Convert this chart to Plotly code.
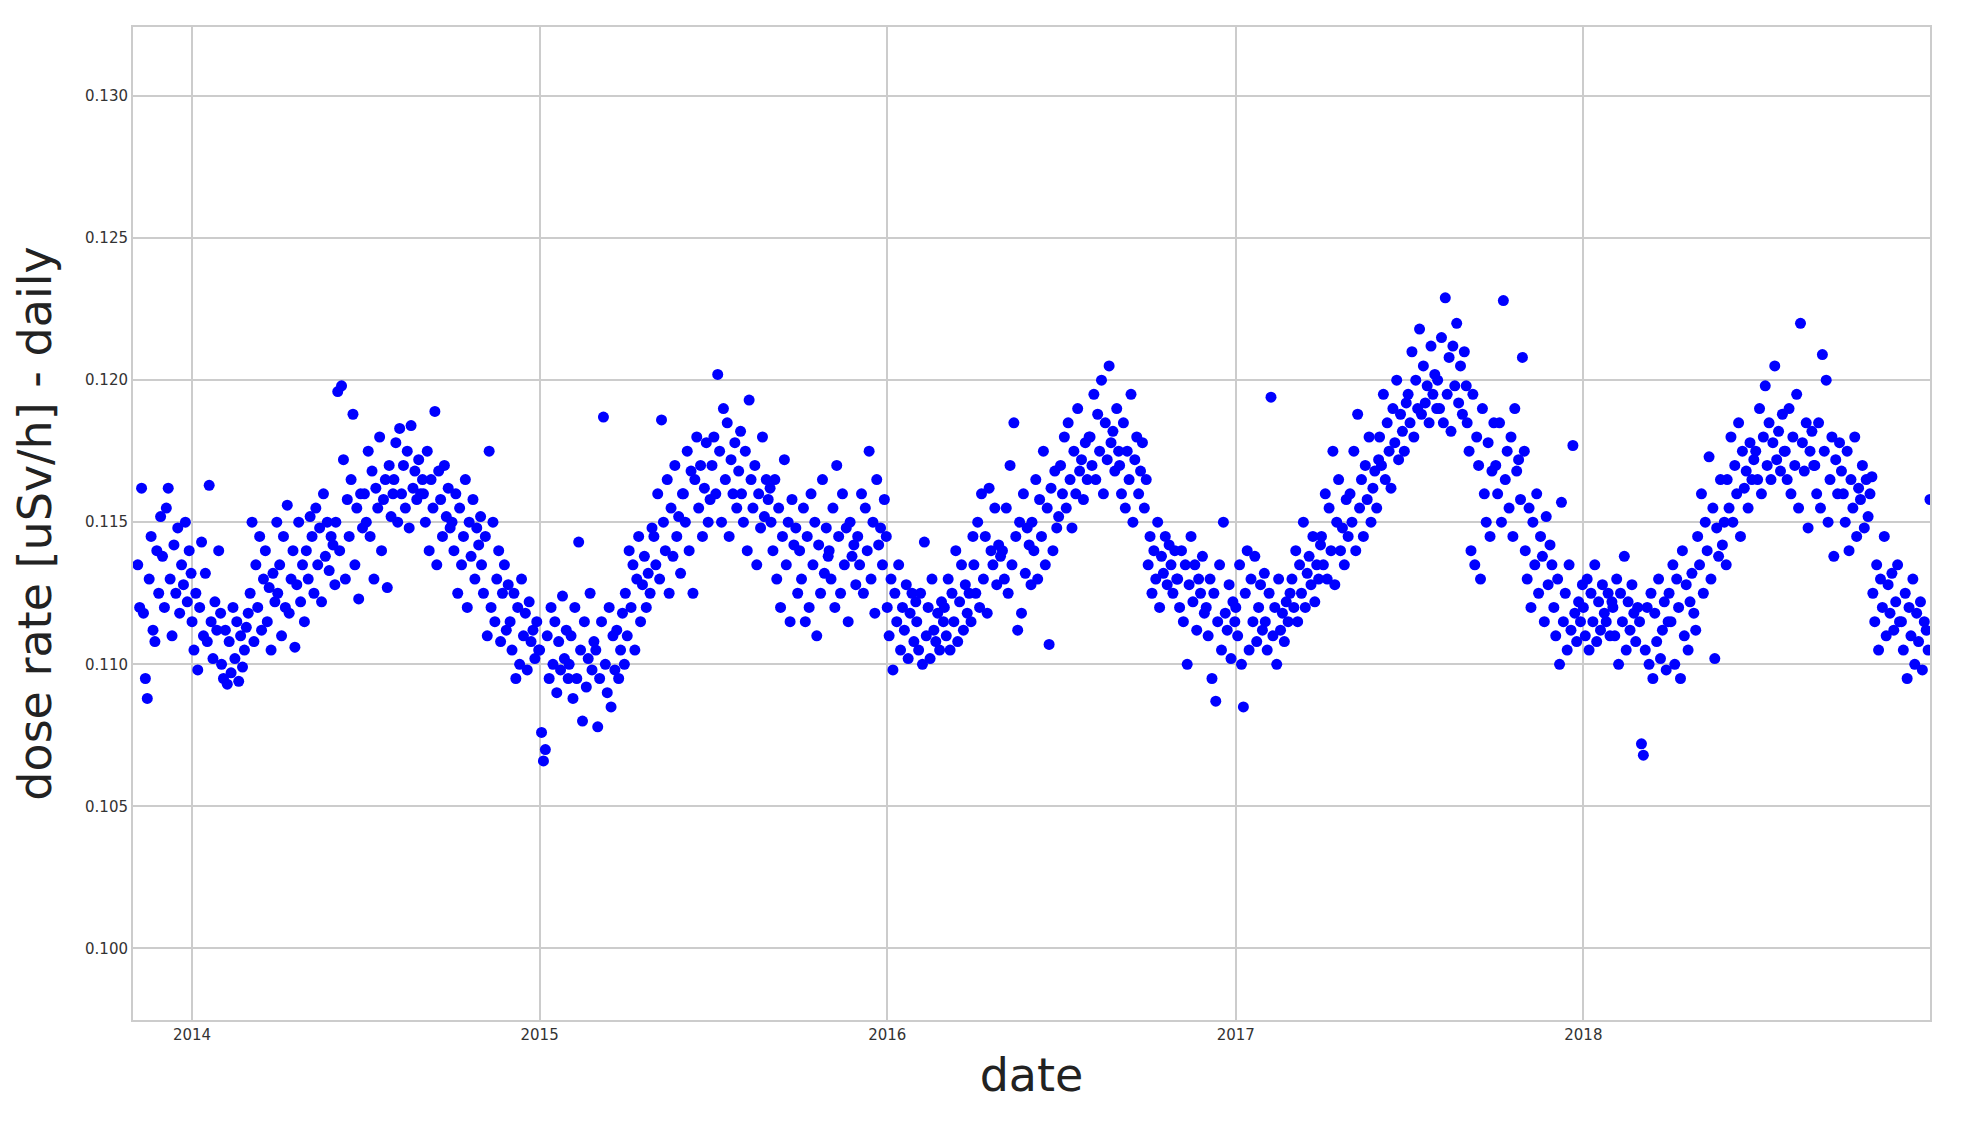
import plotly.graph_objects as go
import pandas as pd

# daily dose rate, sampled every 2 days, in units of 1e-4 uSv/h; one list per month
start_2013 = "2013-11-05"
v2013 = [
 [1135,1120,1162,1118,1095,1088,1130,1145,1112,1108,1140,1125,1152],
 [1138,1120,1155,1162,1130,1110,1142,1125,1148,1118,1135,1128,1150,1122,1140,1132],
]
v2014 = [
 [1115,1105,1125,1098,1120,1143,1110,1132,1108,1163,1115,1102,1122,1112,1140,1118],
 [1100,1095,1112,1093,1108,1097,1120,1102,1115,1094,1110,1099,1105,1113],
 [1118,1125,1150,1108,1135,1120,1145,1112,1130,1140,1115,1127,1105,1132,1122,1150],
 [1125,1135,1110,1145,1120,1156,1118,1130,1140,1106,1128,1150,1122,1135,1115],
 [1140,1130,1152,1145,1125,1155,1135,1148,1122,1160,1138,1150,1133,1145,1142,1128],
 [1150,1196,1140,1198,1172,1130,1158,1145,1165,1188,1135,1155,1123,1160,1148],
 [1160,1150,1175,1145,1168,1130,1162,1155,1180,1140,1158,1165,1127,1170,1152,1160],
 [1165,1178,1150,1183,1160,1170,1155,1175,1148,1184,1162,1168,1158,1172,1160,1165],
 [1160,1150,1175,1140,1165,1155,1189,1135,1168,1158,1145,1170,1152,1162,1148],
 [1150,1140,1160,1125,1155,1135,1145,1165,1120,1150,1138,1158,1130,1148,1142,1152],
 [1135,1125,1145,1110,1175,1120,1150,1115,1130,1140,1108,1125,1135,1112,1128],
 [1115,1105,1125,1095,1120,1100,1130,1110,1118,1098,1122,1108,1112,1102,1115,1105],
]
v2015 = [
 [1105,1076,1066,1070,1110,1095,1120,1100,1115,1090,1108,1098,1124,1102,1112,1095],
 [1100,1110,1088,1120,1095,1143,1105,1080,1115,1092,1102,1125,1098,1108],
 [1105,1078,1095,1115,1187,1100,1090,1120,1085,1110,1098,1112,1095,1105,1118,1100],
 [1125,1110,1140,1120,1135,1105,1130,1145,1115,1128,1138,1120,1132,1125,1148],
 [1145,1135,1160,1130,1186,1150,1140,1165,1125,1155,1138,1170,1145,1152,1132,1160],
 [1160,1150,1175,1140,1168,1125,1165,1180,1155,1170,1145,1162,1178,1150,1158],
 [1170,1180,1160,1202,1175,1150,1190,1165,1185,1145,1172,1160,1178,1155,1168,1182],
 [1160,1150,1175,1140,1193,1165,1155,1170,1135,1160,1148,1180,1152,1165,1158,1162],
 [1150,1140,1165,1130,1155,1120,1145,1172,1135,1150,1115,1158,1142,1148,1125],
 [1140,1130,1155,1115,1145,1120,1160,1135,1150,1110,1142,1125,1165,1132,1148,1138],
 [1140,1130,1155,1120,1170,1145,1125,1160,1135,1148,1115,1150,1138,1142,1128],
 [1145,1135,1160,1125,1155,1140,1175,1130,1150,1118,1165,1142,1148,1135,1158,1145],
]
v2016 = [
 [1120,1110,1130,1098,1125,1115,1135,1105,1120,1112,1128,1102,1118,1125,1108,1122],
 [1115,1105,1125,1100,1143,1110,1120,1102,1130,1112,1108,1118,1105,1122,1115],
 [1120,1110,1130,1105,1125,1115,1140,1108,1122,1135,1112,1128,1118,1125,1115,1145],
 [1135,1125,1150,1120,1160,1130,1145,1118,1162,1140,1135,1155,1128,1142,1138],
 [1140,1130,1155,1125,1170,1135,1185,1145,1112,1150,1118,1160,1132,1148,1142,1128],
 [1150,1140,1165,1130,1158,1145,1175,1135,1155,1107,1162,1140,1168,1148,1152],
 [1170,1160,1180,1155,1185,1165,1148,1175,1160,1190,1168,1172,1158,1178,1165,1180],
 [1180,1170,1195,1165,1188,1175,1200,1160,1185,1172,1205,1178,1182,1168,1190,1175],
 [1170,1160,1185,1155,1175,1165,1195,1150,1172,1180,1160,1168,1178,1155,1165],
 [1135,1145,1125,1140,1130,1150,1120,1138,1132,1145,1128,1142,1135,1125,1140,1130],
 [1130,1120,1140,1115,1135,1100,1128,1145,1122,1135,1112,1130,1125,1138,1118],
 [1120,1110,1130,1095,1125,1087,1115,1135,1105,1150,1118,1112,1128,1102,1122,1115],
]
v2017 = [
 [1120,1110,1135,1100,1085,1125,1140,1105,1130,1115,1138,1108,1120,1128,1112,1132],
 [1115,1105,1125,1194,1110,1120,1100,1130,1112,1118,1108,1122,1115,1125],
 [1130,1120,1140,1115,1135,1125,1150,1120,1132,1138,1128,1145,1122,1135,1130,1142],
 [1145,1135,1160,1130,1155,1140,1175,1128,1150,1165,1140,1148,1135,1158,1145],
 [1160,1150,1175,1140,1188,1155,1165,1145,1170,1158,1180,1150,1162,1168,1155,1172],
 [1180,1170,1195,1165,1185,1175,1162,1190,1178,1200,1172,1188,1182,1175,1192],
 [1195,1185,1210,1180,1200,1190,1218,1188,1205,1192,1198,1185,1212,1195,1202,1190],
 [1200,1190,1215,1185,1229,1195,1208,1182,1212,1198,1220,1192,1205,1188,1210,1198],
 [1185,1175,1140,1195,1135,1180,1170,1130,1190,1160,1150,1178,1145,1168,1185],
 [1170,1160,1185,1150,1228,1165,1175,1155,1180,1145,1190,1168,1172,1158,1208,1175],
 [1140,1130,1155,1120,1150,1135,1160,1125,1145,1138,1115,1152,1128,1142,1135],
 [1120,1110,1130,1100,1157,1115,1125,1105,1135,1112,1177,1118,1108,1122,1115,1128],
]
v2018 = [
 [1120,1110,1130,1105,1125,1115,1135,1108,1122,1112,1128,1118,1115,1125,1110,1122],
 [1120,1110,1130,1100,1125,1115,1138,1105,1122,1112,1128,1118,1108,1120],
 [1115,1072,1068,1105,1120,1100,1125,1095,1118,1108,1130,1102,1112,1122,1098,1115],
 [1125,1115,1135,1100,1130,1120,1095,1140,1110,1128,1105,1122,1132,1118,1112],
 [1145,1135,1160,1125,1150,1140,1173,1130,1155,1102,1148,1138,1165,1142,1150,1135],
 [1165,1155,1180,1150,1170,1160,1185,1145,1175,1162,1168,1155,1178,1165,1172],
 [1175,1165,1190,1160,1180,1198,1170,1185,1165,1178,1205,1172,1182,1168,1188,1175],
 [1175,1165,1190,1160,1180,1170,1195,1155,1220,1178,1168,1185,1148,1175,1182,1170],
 [1170,1160,1185,1155,1209,1175,1200,1150,1165,1180,1138,1172,1160,1178,1168],
 [1160,1150,1175,1140,1165,1155,1180,1145,1162,1158,1170,1148,1165,1152,1160,1166],
 [1125,1115,1135,1105,1130,1120,1145,1110,1128,1118,1132,1112,1122,1135,1115],
 [1115,1105,1125,1095,1120,1110,1130,1100,1118,1108,1122,1098,1115,1112,1105,1158],
]

dates, vals = [], []
months = []
for i, m in enumerate(v2013):
    months.append((pd.Timestamp(start_2013) if i == 0 else pd.Timestamp("2013-12-01"), m))
for y, lst in [(2014, v2014), (2015, v2015), (2016, v2016), (2017, v2017), (2018, v2018)]:
    for mi, m in enumerate(lst):
        months.append((pd.Timestamp(year=y, month=mi + 1, day=1), m))
for st, m in months:
    for k, v in enumerate(m):
        dates.append(st + pd.Timedelta(days=2 * k))
        vals.append(v / 10000)

fig = go.Figure(go.Scatter(x=dates, y=vals, mode="markers",
                           marker=dict(color="#0000ff", size=11, line=dict(width=0))))
fig.update_layout(
    width=1972, height=1124, paper_bgcolor="white", plot_bgcolor="white",
    margin=dict(l=125, r=50, t=19, b=112), showlegend=False,
    font=dict(family="DejaVu Sans", color="#333"),
)
ax = dict(showgrid=True, gridcolor="#cccccc", gridwidth=1.5, showline=True, linecolor="#cccccc",
          linewidth=2, mirror=True, zeroline=False, tickfont=dict(size=15, color="#333"), ticks="")
fig.update_xaxes(**ax, range=["2013-10-31", "2018-12-31"], tickformat="%Y", dtick="M12",
                 tick0="2014-01-01", title=dict(text="date", font=dict(size=46, color="#222"), standoff=16))
fig.update_yaxes(**ax, range=[0.09748, 0.13243], tickvals=[0.100, 0.105, 0.110, 0.115, 0.120, 0.125, 0.130],
                 tickformat=".3f", title=dict(text="dose rate [uSv/h] - daily", font=dict(size=46, color="#222"), standoff=28))
fig.write_html("out.html")
